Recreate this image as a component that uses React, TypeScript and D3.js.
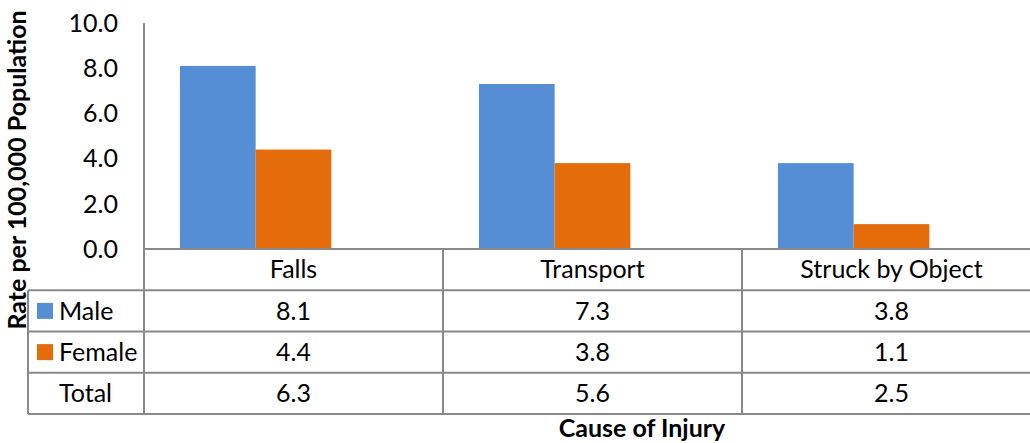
import { useEffect, useRef } from 'react';
import * as d3 from 'd3';

const causes = ['Falls', 'Transport', 'Struck by Object'];
const seriesNames = ['Male', 'Female', 'Total'];
const maleRates = [8.1, 7.3, 3.8];
const femaleRates = [4.4, 3.8, 1.1];
const totalRates = [6.3, 5.6, 2.5];
const yTicks = [0, 2, 4, 6, 8, 10];

const seriesColors: Record<string, string> = {
    Male: '#558ed5',
    Female: '#e46c0a',
    Total: 'none', // Total is in the table only, the bar is hidden
};

const App = () => {
    const graphRef = useRef<SVGSVGElement | null>(null);

    useEffect(() => {
        const svg = d3.select(graphRef.current);
        svg.selectAll('*').remove();

        const fontFamily = 'Lato, "Open Sans", sans-serif';
        const fontSize = 25;
        const lineColor = '#898989';

        const plotLeft = 144;
        const plotTop = 23;
        const baseY = 249;
        const tableLeft = 28;
        const colWidth = 299;
        const rowH = 41.25;
        const plotRight = plotLeft + colWidth * causes.length;

        const x = d3.scaleBand().domain(causes).range([plotLeft, plotRight]).padding(0);
        const xSeries = d3
            .scaleBand()
            .domain(seriesNames)
            .range([0, x.bandwidth()])
            .paddingInner(0)
            .paddingOuter(0.475);
        const y = d3.scaleLinear().domain([0, 10]).range([baseY, plotTop]);

        const rows = seriesNames.map((name, i) => ({
            name,
            values: [maleRates, femaleRates, totalRates][i],
        }));

        // bars
        const g = svg.append('g');
        rows.forEach(row => {
            if (seriesColors[row.name] === 'none') return;
            g.selectAll(null)
                .data(row.values)
                .enter()
                .append('rect')
                .attr('x', (_d, i) => (x(causes[i]) ?? 0) + (xSeries(row.name) ?? 0))
                .attr('width', xSeries.bandwidth())
                .attr('y', d => y(d))
                .attr('height', d => baseY - y(d))
                .attr('fill', seriesColors[row.name]);
        });

        // y ticks
        svg.append('g')
            .selectAll('text')
            .data(yTicks)
            .enter()
            .append('text')
            .attr('x', 118)
            .attr('y', d => y(d))
            .attr('dy', '0.35em')
            .attr('text-anchor', 'end')
            .attr('font-family', fontFamily)
            .attr('font-size', fontSize)
            .attr('fill', '#000')
            .text(d => d3.format('.1f')(d));

        // data table lines
        const lines = svg.append('g').attr('stroke', lineColor).attr('stroke-width', 2);
        lines.append('line')
            .attr('x1', plotLeft).attr('x2', plotRight)
            .attr('y1', baseY).attr('y2', baseY);
        for (let r = 1; r <= rows.length + 1; r++) {
            const yy = baseY + r * rowH;
            lines.append('line')
                .attr('x1', tableLeft).attr('x2', plotRight)
                .attr('y1', yy).attr('y2', yy);
        }
        const tableBottom = baseY + (rows.length + 1) * rowH;
        lines.append('line')
            .attr('x1', plotLeft).attr('x2', plotLeft)
            .attr('y1', plotTop).attr('y2', tableBottom);
        lines.append('line')
            .attr('x1', tableLeft).attr('x2', tableLeft)
            .attr('y1', baseY + rowH).attr('y2', tableBottom);
        causes.forEach((_c, i) => {
            const xx = plotLeft + (i + 1) * colWidth;
            lines.append('line')
                .attr('x1', xx).attr('x2', xx)
                .attr('y1', baseY).attr('y2', tableBottom);
        });

        // header row
        svg.append('g')
            .selectAll('text')
            .data(causes)
            .enter()
            .append('text')
            .attr('x', d => (x(d) ?? 0) + x.bandwidth() / 2)
            .attr('y', baseY + rowH / 2)
            .attr('dy', '0.35em')
            .attr('text-anchor', 'middle')
            .attr('font-family', fontFamily)
            .attr('font-size', fontSize)
            .text(d => d);

        // value rows + legend keys
        rows.forEach((row, r) => {
            const midY = baseY + (r + 1) * rowH + rowH / 2;
            if (seriesColors[row.name] !== 'none') {
                svg.append('rect')
                    .attr('x', 37)
                    .attr('y', midY - 8)
                    .attr('width', 16)
                    .attr('height', 16)
                    .attr('fill', seriesColors[row.name]);
            }
            svg.append('text')
                .attr('x', 59)
                .attr('y', midY)
                .attr('dy', '0.35em')
                .attr('font-family', fontFamily)
                .attr('font-size', fontSize)
                .text(row.name);
            svg.append('g')
                .selectAll('text')
                .data(row.values)
                .enter()
                .append('text')
                .attr('x', (_d, i) => (x(causes[i]) ?? 0) + x.bandwidth() / 2)
                .attr('y', midY)
                .attr('dy', '0.35em')
                .attr('text-anchor', 'middle')
                .attr('font-family', fontFamily)
                .attr('font-size', fontSize)
                .text(d => d3.format('.1f')(d));
        });

        // axis titles
        svg.append('text')
            .attr('transform', 'translate(26,170) rotate(-90)')
            .attr('text-anchor', 'middle')
            .attr('font-family', fontFamily)
            .attr('font-size', fontSize)
            .attr('font-weight', 'bold')
            .text('Rate per 100,000 Population');

        svg.append('text')
            .attr('x', 642)
            .attr('y', 437)
            .attr('text-anchor', 'middle')
            .attr('font-family', fontFamily)
            .attr('font-size', fontSize)
            .attr('font-weight', 'bold')
            .text('Cause of Injury');

        return () => {
            svg.selectAll('*').remove();
        };
    }, []);

    return (
        <svg
            ref={graphRef}
            width={1030}
            height={443}
            style={{ position: 'absolute', left: 0, top: 0, background: '#fff' }}
        />
    );
};

export default App;
